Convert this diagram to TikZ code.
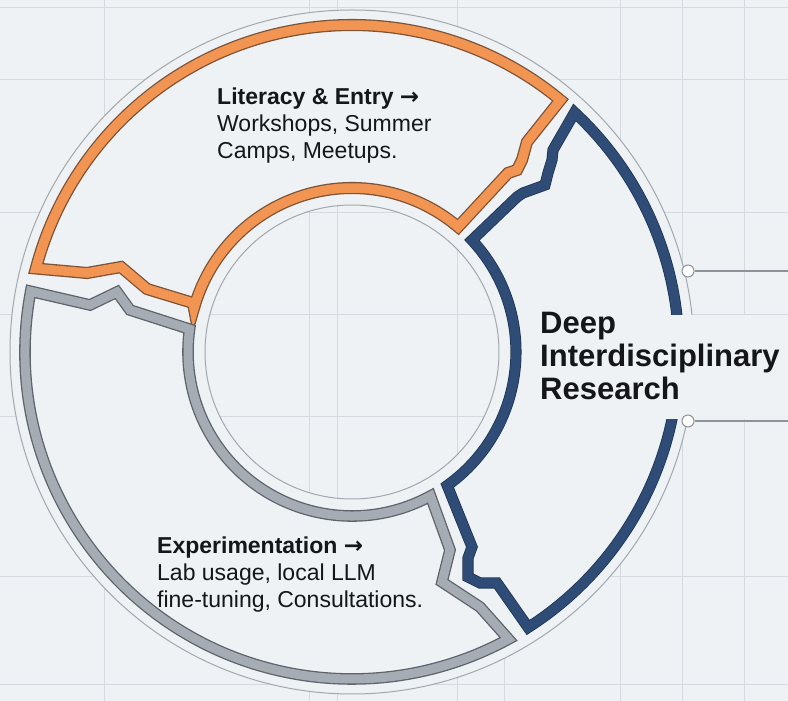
\documentclass[tikz,border=0pt]{standalone}
\usepackage{fontspec}
\setmainfont{Liberation Sans}
\newfontfamily\arrowfont{DejaVu Sans}
\usepackage{xcolor}
\definecolor{bgc}{HTML}{EEF2F4}
\definecolor{gridc}{HTML}{D4DADF}
\definecolor{ringc}{HTML}{A2A8AE}
\definecolor{inkc}{HTML}{141619}
\definecolor{orangefill}{HTML}{F29553}
\definecolor{orangeedge}{HTML}{7E5236}
\definecolor{grayfill}{HTML}{A5ACB4}
\definecolor{grayedge}{HTML}{5C636B}
\definecolor{bluefill}{HTML}{2E4C76}
\definecolor{blueedge}{HTML}{1E3352}
\definecolor{wirec}{HTML}{8C9299}

\begin{document}
\begin{tikzpicture}
[x=1pt,y=1pt,line join=miter,
 grid/.style={draw=gridc,line width=1pt},
 ring/.style={draw=ringc,line width=1pt},
 oseg/.style={fill=bgc,draw=orangeedge,line width=1.3pt,double=orangefill,double distance=9.5pt},
 gseg/.style={fill=bgc,draw=grayedge,line width=1.3pt,double=grayfill,double distance=9pt},
 bseg/.style={fill=bgc,draw=blueedge,line width=0.8pt,double=bluefill,double distance=9.5pt},
 dot/.style={draw=wirec,circle,fill=white,inner sep=0pt,minimum size=12pt,line width=1pt},
 wire/.style={draw=wirec,line width=1.5pt},
 body/.style={anchor=north west,inner sep=0pt,align=left,text=inkc,font=\fontsize{23}{27}\selectfont},
]

%Canvas
\useasboundingbox (-352,-349) rectangle (436,352);
\fill[bgc] (-352,-349) rectangle (436,352);

%Background grid
\foreach \gx in {-247,-42,-14,106,268,330,392}
  \draw[grid] (\gx,-349) -- (\gx,352);
\foreach \gy in {344,272,139,37,-65,-225,-333}
  \draw[grid] (-352,\gy) -- (436,\gy);
\draw[grid] (153,-288) -- (153,-349);

%Ring band and thin circles
\fill[bgc,even odd rule] (0,0) circle[radius=342] (0,0) circle[radius=147];
\draw[ring] (0,0) circle[radius=342];
\draw[ring] (0,0) circle[radius=147];

%Literacy segment
\draw[oseg] (165.2:327) arc[start angle=165.2,end angle=50.4,radius=327]
  -- (175,210) -- (170,192) -- (165,182) -- (156,179)
  -- (49.7:164) arc[start angle=49.7,end angle=164.5,radius=164]
  -- (-159,49) -- (-205,63) -- (-231,85) -- (-265,79) -- cycle;

%Experimentation segment
\draw[gseg] (169.3:327) arc[start angle=169.3,end angle=298.6,radius=327]
  -- (128,-255) -- (90,-230) -- (98,-198)
  -- (-61.4:164) arc[start angle=-61.4,end angle=-188,radius=164]
  -- (-222,42) -- (-235,60) -- (-262,47) -- cycle;

%Research segment
\draw[bseg] (47.1:327) arc[start angle=47.1,end angle=-57.4,radius=327]
  -- (145,-231) -- (128,-231) -- (116,-225) -- (116,-206) -- (120,-195)
  -- (-54.5:164) arc[start angle=-54.5,end angle=43,radius=164]
  -- (165,155) -- (171,159) -- (193,167) -- (196,179) -- (200,192) -- (201,202) -- cycle;

%Label patch
\fill[bgc] (176,37) rectangle (436,-67);

%Connectors
\node (P1) at (336,81)[dot] {};
\node (P2) at (336,-69)[dot] {};
\coordinate (E1) at (436,81);
\coordinate (E2) at (436,-69);
\draw[wire] (P1) -- (E1);
\draw[wire] (P2) -- (E2);

%Labels
\node (Lit) at (-135,264)[body]
  {\textbf{Literacy \& Entry {\arrowfont →}}\\Workshops, Summer\\Camps, Meetups.};
\node (Exp) at (-195,-185)[body]
  {\textbf{Experimentation {\arrowfont →}}\\Lab usage, local LLM\\fine-tuning, Consultations.};
\node (Deep) at (188,40)[body,font=\bfseries\fontsize{31}{33}\selectfont]
  {Deep\\Interdisciplinary\\Research};

\end{tikzpicture}
\end{document}
